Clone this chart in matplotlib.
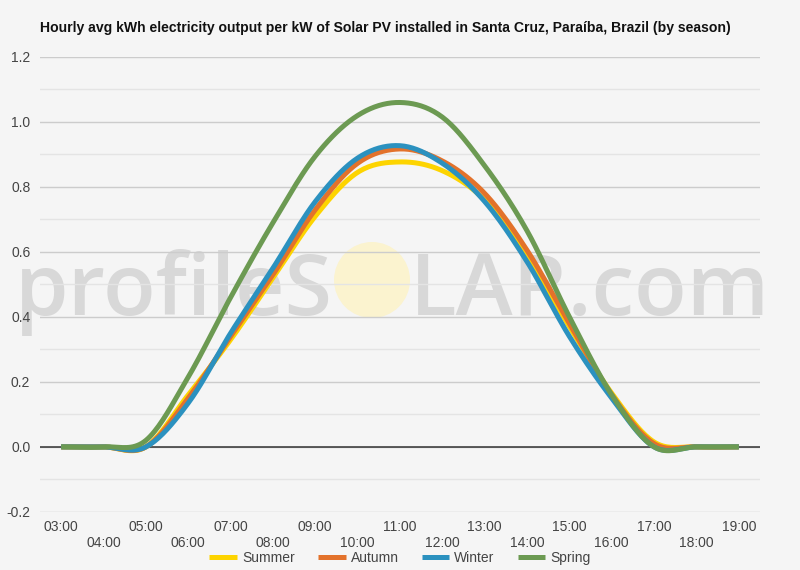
## Hourly PV output by season - Santa Cruz, Paraiba
import matplotlib
matplotlib.use("Agg")
import matplotlib.pyplot as plt
from matplotlib.patches import Ellipse
import numpy as np

hours = ["03:00", "04:00", "05:00", "06:00", "07:00", "08:00", "09:00", "10:00",
         "11:00", "12:00", "13:00", "14:00", "15:00", "16:00", "17:00", "18:00", "19:00"]

summer = [0.0, 0.0, 0.0, 0.16, 0.33, 0.52, 0.71, 0.845, 0.877, 0.85, 0.76, 0.59, 0.37, 0.165, 0.015, 0.0, 0.0]
autumn = [0.0, 0.0, 0.0, 0.15, 0.34, 0.53, 0.73, 0.873, 0.917, 0.88, 0.78, 0.605, 0.38, 0.16, 0.01, 0.0, 0.0]
winter = [0.0, 0.0, 0.0, 0.135, 0.35, 0.55, 0.755, 0.889, 0.927, 0.873, 0.755, 0.57, 0.34, 0.15, 0.0, 0.0, 0.0]
spring = [0.0, 0.0, 0.02, 0.215, 0.46, 0.69, 0.895, 1.02, 1.06, 1.015, 0.865, 0.665, 0.40, 0.16, 0.0, 0.0, 0.0]

series = [("Summer", summer, "#FDD400"),
          ("Autumn", autumn, "#E3722B"),
          ("Winter", winter, "#2B91BF"),
          ("Spring", spring, "#6C9A52")]

bg = "#F5F5F5"
plt.rcParams["font.family"] = ["Liberation Sans", "DejaVu Sans"]


def smooth(y, n=20):
    # catmull-rom style curve through the hourly points
    y = np.asarray(y, dtype=float)
    pts = np.concatenate([[y[0]], y, [y[-1]]])
    xs, ys = [], []
    for i in range(len(y) - 1):
        p0, p1, p2, p3 = pts[i], pts[i + 1], pts[i + 2], pts[i + 3]
        m1 = (p2 - p0) / 2.0
        m2 = (p3 - p1) / 2.0
        t = np.linspace(0, 1, n, endpoint=False)
        h00 = 2 * t**3 - 3 * t**2 + 1
        h10 = t**3 - 2 * t**2 + t
        h01 = -2 * t**3 + 3 * t**2
        h11 = t**3 - t**2
        xs.append(i + t)
        ys.append(h00 * p1 + h10 * m1 + h01 * p2 + h11 * m2)
    xs.append([len(y) - 1])
    ys.append([y[-1]])
    return np.concatenate(xs), np.concatenate(ys)


fig = plt.figure(figsize=(8, 5.7), dpi=100, facecolor=bg)
ax = fig.add_axes([0.05, 0.102, 0.90, 0.798], facecolor=bg)

x = np.arange(len(hours))
for name, vals, col in series:
    sx, sy = smooth(vals)
    ax.plot(sx, sy, color=col, lw=3.6, label=name, zorder=3, solid_capstyle="butt")

ax.set_xlim(-0.5, len(hours) - 0.5)
ax.set_ylim(-0.2, 1.2)
ax.set_yticks(np.arange(-0.2, 1.21, 0.2))
ax.set_yticks(np.arange(-0.1, 1.2, 0.2), minor=True)
ax.set_yticklabels(["%.1f" % v for v in np.arange(-0.2, 1.21, 0.2)])
ax.grid(axis="y", which="major", color="#CCCCCC", lw=1)
ax.grid(axis="y", which="minor", color="#E4E4E4", lw=1)
ax.axhline(0, color="#333333", lw=1.1, zorder=2)
ax.set_axisbelow(True)

ax.set_xticks(x)
ax.set_xticklabels([h if i % 2 == 0 else "\n" + h for i, h in enumerate(hours)])
ax.tick_params(axis="both", which="both", length=0, labelsize=10, labelcolor="#444444")
ax.tick_params(axis="x", pad=6)
ax.tick_params(axis="y", pad=7)
for s in ax.spines.values():
    s.set_visible(False)

# watermark, kept behind grid and tick labels
wm_y = 1 - 315 / 570
ax.text(0.416, wm_y, "profileS", transform=fig.transFigure, ha="right", va="baseline",
        fontsize=62, fontweight="semibold", color="#D8D8D8", family="Open Sans",
        zorder=0.2, clip_on=False)
ax.add_patch(Ellipse((372 / 800, 1 - 280 / 570), 76 / 800, 76 / 570, transform=fig.transFigure,
                     facecolor="#FBF3CF", edgecolor="none", zorder=0.2))
ax.text(0.512, wm_y, "LAR.com", transform=fig.transFigure, ha="left", va="baseline",
        fontsize=62, fontweight="semibold", color="#D8D8D8", family="Open Sans",
        zorder=0.2, clip_on=False)

fig.text(0.05, 0.951, "Hourly avg kWh electricity output per kW of Solar PV installed in Santa Cruz, Paraíba, Brazil (by season)",
         fontsize=10.1, fontweight="bold", color="#111111", va="center")

fig.legend(loc="center", bbox_to_anchor=(0.5, 0.021), ncol=4, frameon=False,
           fontsize=10, handlelength=2.0, columnspacing=1.65, handletextpad=0.36,
           labelcolor="#444444")

fig.savefig("out.png", dpi=100, facecolor=bg)
